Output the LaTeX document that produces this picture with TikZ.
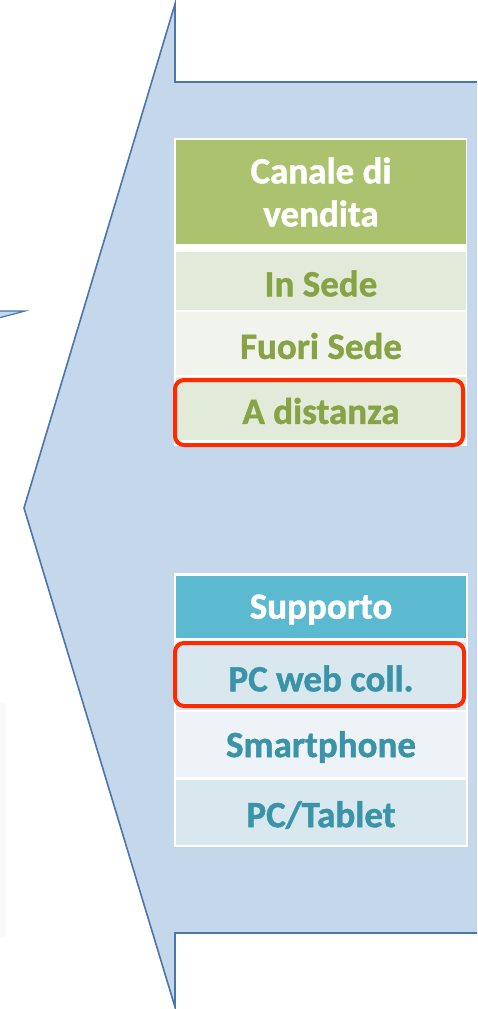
\documentclass[tikz,border=0pt]{standalone}
\usepackage{fontspec}
\setmainfont{Carlito}[BoldFeatures={FakeBold=1.2}]
\definecolor{arrowfill}{HTML}{C5D7EB}
\definecolor{arrowline}{HTML}{4A76AC}
\definecolor{ghead}{HTML}{ABC36E}
\definecolor{gcellA}{HTML}{E2EAD9}
\definecolor{gcellB}{HTML}{F1F4EC}
\definecolor{gtext}{HTML}{87A346}
\definecolor{bhead}{HTML}{5BB9D0}
\definecolor{bcellA}{HTML}{D9E7EE}
\definecolor{bcellB}{HTML}{EDF3F7}
\definecolor{btext}{HTML}{3A93A8}
\definecolor{hl}{HTML}{FF2A00}
\newcommand{\lowtxt}[1]{\raisebox{-2.5pt}[\height][\depth]{#1}}
\begin{document}
\begin{tikzpicture}[x=1pt,y=-1pt,
  cell/.style={rectangle, inner sep=0pt, minimum width=290pt, font=\fontsize{37}{43}\selectfont\bfseries, align=center},
  framebox/.style={rectangle, fill=white, inner sep=0pt},
  hlbox/.style={rectangle, draw=hl, line width=4pt, rounded corners=9pt, inner sep=0pt},
  arrowshape/.style={fill=arrowfill, draw=arrowline, line width=1.6pt, line join=miter}
]
\useasboundingbox (0,0) rectangle (477,1009);
\clip (0,0) rectangle (477,1009);
% faint strip at left
\fill[black!2] (0,703) rectangle (6,937);
% fragment of another arrow at left
\filldraw[arrowshape, line width=1.2pt] (-5,311) -- (25,311) -- (-5,319) -- cycle;
% main arrow
\filldraw[arrowshape] (490,82) -- (175,82) -- (175,4) -- (24,508) -- (175,1007) -- (175,933) -- (490,933) -- cycle;

% table 1
\node[framebox, minimum width=293pt, minimum height=308pt] (t1) at (320.5,292) {};
\node[cell, fill=ghead, text=white, minimum height=104pt] (canale) at (321,192) {Canale di\\vendita};
\node[cell, fill=gcellA, text=gtext, minimum height=58pt] (insede) at (321,281) {\lowtxt{In Sede}};
\node[cell, fill=gcellB, text=gtext, minimum height=63pt] (fuori) at (321,343.5) {\lowtxt{Fuori Sede}};
\node[cell, fill=gcellA, text=gtext, minimum height=63pt] (distanza) at (321,408.5) {\lowtxt{A distanza}};
\node[hlbox, minimum width=288pt, minimum height=65pt] (sel1) at (319,412.5) {};

% table 2
\node[framebox, minimum width=294pt, minimum height=274pt] (t2) at (321,710) {};
\node[cell, fill=bhead, text=white, minimum height=62pt] (supporto) at (321,607) {\lowtxt{Supporto}};
\node[cell, fill=bcellA, text=btext, minimum height=68pt] (pcweb) at (321,676) {\lowtxt{PC web coll.}};
\node[cell, fill=bcellB, text=btext, minimum height=65pt] (smart) at (321,744.5) {\lowtxt{Smartphone}};
\node[cell, fill=bcellA, text=btext, minimum height=65pt] (tablet) at (321,812.5) {\lowtxt{PC/Tablet}};
\node[hlbox, minimum width=289pt, minimum height=63pt] (sel2) at (319.5,674.5) {};
\end{tikzpicture}
\end{document}
